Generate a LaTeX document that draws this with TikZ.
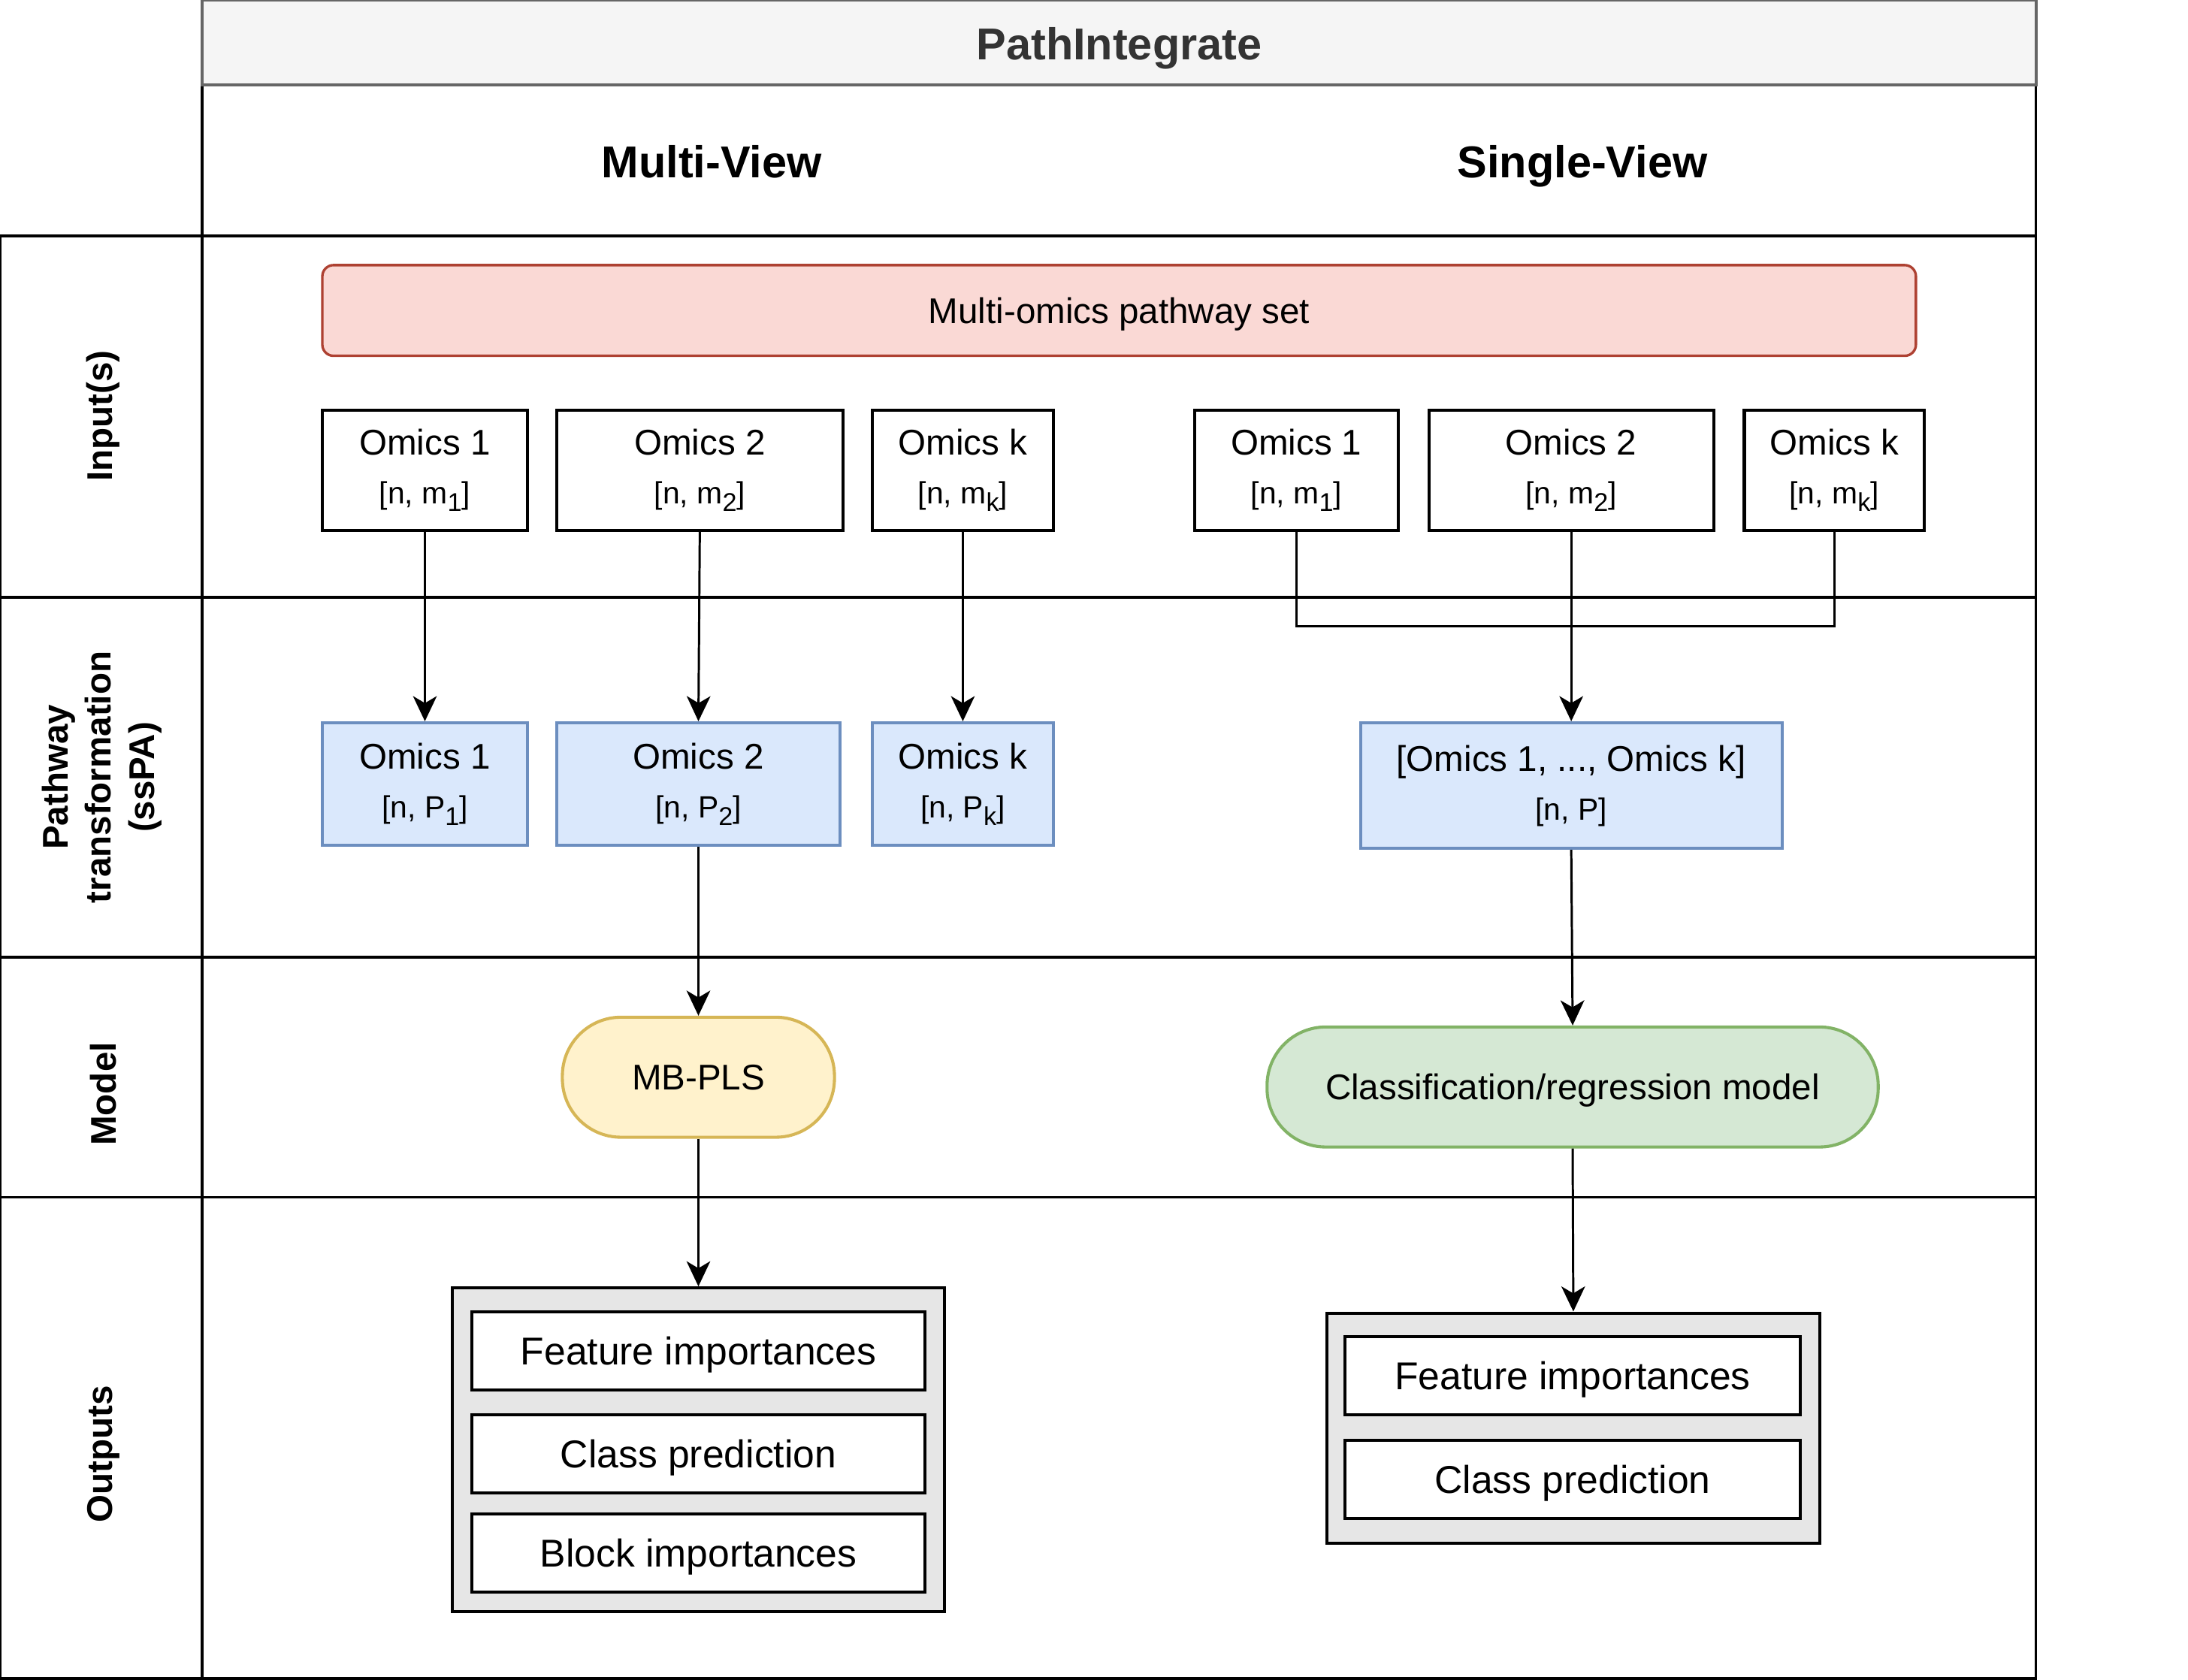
\documentclass[tikz,border=0pt]{standalone}
\usepackage{fontspec}
\setmainfont{Liberation Sans}
\usetikzlibrary{arrows.meta}
\definecolor{titlefill}{HTML}{F5F5F5}
\definecolor{titledraw}{HTML}{666666}
\definecolor{titletext}{HTML}{333333}
\definecolor{pinkfill}{HTML}{FAD9D5}
\definecolor{pinkdraw}{HTML}{AE4132}
\definecolor{bluefill}{HTML}{DAE8FC}
\definecolor{bluedraw}{HTML}{6C8EBF}
\definecolor{yellowfill}{HTML}{FFF2CC}
\definecolor{yellowdraw}{HTML}{D6B656}
\definecolor{greenfill}{HTML}{D5E8D4}
\definecolor{greendraw}{HTML}{82B366}
\definecolor{grayfill}{HTML}{E6E6E6}
\newcommand{\mainsz}{\fontsize{12.8}{17.5}\selectfont}
\newcommand{\subsz}{\fontsize{11}{17.5}\selectfont}
\newcommand{\sbs}[1]{\raisebox{-2.8pt}{\fontsize{9.2}{9.2}\selectfont #1}}
\tikzset{
  basebox/.style={draw, line width=1.1pt, inner sep=0pt, align=center, font=\mainsz},
  oneline/.style={text height=9.2pt, text depth=0pt},
  inbox/.style={basebox, fill=white},
  pabox/.style={basebox, fill=bluefill, draw=bluedraw},
  outbox/.style={basebox, fill=white, font=\fontsize{13.9}{16}\selectfont, text height=9.95pt, text depth=0pt},
  contbox/.style={draw, line width=1.1pt, fill=grayfill, inner sep=0pt},
  lanelabel/.style={rotate=90, font=\bfseries\fontsize{12.8}{15.5}\selectfont, align=center},
  header/.style={font=\bfseries\fontsize{16}{19}\selectfont, text height=11.46pt, text depth=0pt, inner sep=0pt},
  conn/.style={line width=0.8pt, -{Stealth[length=9pt, width=8.5pt, inset=2.5pt]}},
  lanelines/.style={line width=1pt}
}
\begin{document}
\begin{tikzpicture}[x=0.5pt, y=-0.5pt]
\useasboundingbox (0,0) rectangle (1568,1204);
% lanes
\draw[lanelines] (0,169) rectangle (1459,1203);
\draw[lanelines] (145,61) -- (145,1203);
\draw[lanelines] (1459,61) -- (1459,169);
\draw[lanelines] (0,428) -- (1459,428);
\draw[lanelines] (0,686) -- (1459,686);
\draw[lanelines] (0,858) -- (1459,858);
% title
\node[draw=titledraw, fill=titlefill, line width=1.1pt, minimum width=657pt, minimum height=30.5pt, inner sep=0pt] (title) at (802,30.5) {};
\node[header, text=titletext] (titletxt) at (802,31.5) {PathIntegrate};
\node[header] (mv) at (510,116) {Multi-View};
\node[header] (sv) at (1134,116) {Single-View};
% lane labels
\node[lanelabel] (l1) at (74,298) {Input(s)};
\node[lanelabel] (l2) at (73,557) {Pathway\\transformation\\(ssPA)};
\node[lanelabel] (l3) at (74,784) {Model};
\node[lanelabel] (l4) at (74,1042) {Outputs};
% pink
\node[basebox, oneline, fill=pinkfill, draw=pinkdraw, line width=0.9pt, rounded corners=4pt,
      minimum width=571pt, minimum height=32.5pt] (pink) at (802,222.5) {Multi-omics pathway set};
% inputs multi-view
\node[inbox, minimum width=73.5pt, minimum height=43pt] (mi1) at (304.5,337) {Omics 1\\{\subsz [n, m\sbs{1}]}};
\node[inbox, minimum width=102.5pt, minimum height=43pt] (mi2) at (501.5,337) {Omics 2\\{\subsz [n, m\sbs{2}]}};
\node[inbox, minimum width=65pt, minimum height=43pt] (mik) at (690,337) {Omics k\\{\subsz [n, m\sbs{k}]}};
% inputs single-view
\node[inbox, minimum width=73pt, minimum height=43pt] (si1) at (929,337) {Omics 1\\{\subsz [n, m\sbs{1}]}};
\node[inbox, minimum width=102pt, minimum height=43pt] (si2) at (1126,337) {Omics 2\\{\subsz [n, m\sbs{2}]}};
\node[inbox, minimum width=64.5pt, minimum height=43pt] (sik) at (1314.5,337) {Omics k\\{\subsz [n, m\sbs{k}]}};
% pathway boxes
\node[pabox, minimum width=73.5pt, minimum height=44pt] (mp1) at (304.5,562) {Omics 1\\{\subsz [n, P\sbs{1}]}};
\node[pabox, minimum width=101.5pt, minimum height=44pt] (mp2) at (500.5,562) {Omics 2\\{\subsz [n, P\sbs{2}]}};
\node[pabox, minimum width=65pt, minimum height=44pt] (mpk) at (690,562) {Omics k\\{\subsz [n, P\sbs{k}]}};
\node[pabox, minimum width=151pt, minimum height=45pt] (sp) at (1126,563) {[Omics 1, ..., Omics k]\\{\subsz [n, P]}};
% models
\node[basebox, oneline, fill=yellowfill, draw=yellowdraw, rounded corners=21pt, minimum width=97.5pt, minimum height=43pt] (mb) at (500.5,772) {MB-PLS};
\node[basebox, oneline, fill=greenfill, draw=greendraw, rounded corners=21pt, minimum width=219pt, minimum height=43pt] (cl) at (1127,779) {Classification/regression model};
% outputs multi-view
\node[contbox, minimum width=176.5pt, minimum height=116pt] (mo) at (500.5,1039) {};
\node[outbox, minimum width=162.5pt, minimum height=28pt] (mo1) at (500.5,968) {Feature importances};
\node[outbox, minimum width=162.5pt, minimum height=28pt] (mo2) at (500.5,1042) {Class prediction};
\node[outbox, minimum width=162.5pt, minimum height=28pt] (mo3) at (500.5,1113) {Block importances};
% outputs single-view
\node[contbox, minimum width=176.5pt, minimum height=82.5pt] (so) at (1127.5,1023.5) {};
\node[outbox, minimum width=163pt, minimum height=28pt] (so1) at (1127,986) {Feature importances};
\node[outbox, minimum width=163pt, minimum height=28pt] (so2) at (1127,1060) {Class prediction};
% connectors
\draw[conn] (mi1.south) -- (mp1.north);
\draw[conn] (mi2.south) -- (mp2.north);
\draw[conn] (mik.south) -- (mpk.north);
\coordinate (sbar) at (0,449);
\draw[line width=0.8pt] (si1.south) |- (sik.south |- sbar) -- (sik.south);
\draw[conn] (si2.south) -- (sp.north);
\draw[conn] (mp2.south) -- (mb.north);
\draw[conn] (sp.south) -- (cl.north);
\draw[conn] (mb.south) -- (mo.north);
\draw[conn] (cl.south) -- (so.north);
\end{tikzpicture}
\end{document}
